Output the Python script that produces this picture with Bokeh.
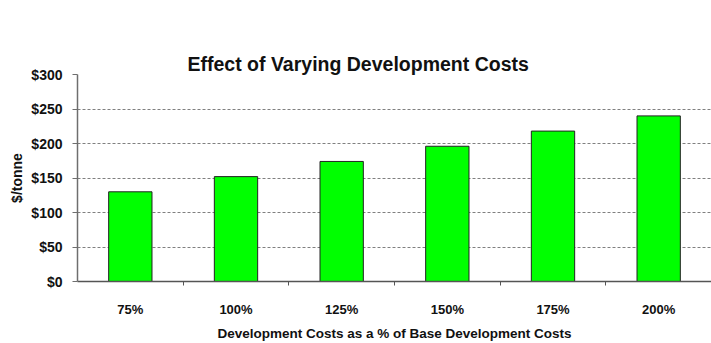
from bokeh.plotting import figure
from bokeh.models import (FixedTicker, NumeralTickFormatter, Range1d,
                          ColumnDataSource, LinearAxis)
from bokeh.embed import file_html
from bokeh.resources import INLINE

# Data
categories = ["75%", "100%", "125%", "150%", "175%", "200%"]
cost_per_tonne = [130, 152, 174, 196, 218, 240]
y_ticks = [0, 50, 100, 150, 200, 250, 300]
title_text = "Effect of Varying Development Costs"

n = len(categories)
centers = [i + 0.5 for i in range(n)]
boundaries = [float(i) for i in range(1, n)]

FONT = "Liberation Sans"
TEXT = "#111111"

source = ColumnDataSource(dict(x=centers, top=cost_per_tonne, cat=categories))

p = figure(width=711, height=343, output_backend="svg", toolbar_location=None,
           x_range=Range1d(0, n), y_range=Range1d(0, 300),
           min_border_left=77, min_border_right=0, min_border_top=74,
           min_border_bottom=60, background_fill_color="white",
           border_fill_color="white", outline_line_color=None,
           title=title_text)

p.title.align = "left"
p.title.offset = 110
p.title.vertical_align = "bottom"
p.title.standoff = 0
p.title.text_font = FONT
p.title.text_font_size = "19.5px"
p.title.text_font_style = "bold"
p.title.text_color = TEXT

# The bottom axis, taken before anything else is added above the plot
xax = p.below[0]

# Blank strip above the plot area that keeps the heading clear of the grid
spacer = LinearAxis(ticker=FixedTicker(ticks=[]), axis_line_color=None,
                    major_tick_line_color=None, minor_tick_line_color=None,
                    major_tick_in=0, major_tick_out=40, minor_tick_out=0,
                    major_label_standoff=0)
p.add_layout(spacer, "above")

p.vbar(x="x", top="top", bottom=0, width=0.41, source=source,
       fill_color="#00ff00", line_color="#222222", line_width=1)

# Y axis
p.yaxis.ticker = FixedTicker(ticks=y_ticks)
p.yaxis.formatter = NumeralTickFormatter(format="$0")
p.yaxis.axis_label = "$/tonne"
p.yaxis.axis_label_text_font = FONT
p.yaxis.axis_label_text_font_size = "14px"
p.yaxis.axis_label_text_font_style = "bold"
p.yaxis.axis_label_text_color = TEXT
p.yaxis.axis_label_standoff = 3
p.yaxis.major_label_text_font = FONT
p.yaxis.major_label_text_font_size = "14px"
p.yaxis.major_label_text_font_style = "bold"
p.yaxis.major_label_text_color = TEXT
p.yaxis.major_label_standoff = 10
p.yaxis.major_tick_in = 0
p.yaxis.major_tick_out = 5
p.yaxis.minor_tick_line_color = None
p.yaxis.axis_line_color = "#6e6e6e"
p.yaxis.axis_line_width = 1.5
p.yaxis.major_tick_line_color = "#6e6e6e"

# X axis: labels at category centres, short marks between categories
xax.ticker = FixedTicker(ticks=centers, minor_ticks=boundaries)
xax.major_label_overrides = {c: lab for c, lab in zip(centers, categories)}
xax.major_tick_line_color = None
xax.major_tick_in = 0
xax.major_tick_out = 0
xax.minor_tick_in = 0
xax.minor_tick_out = 4
xax.minor_tick_line_color = "#555555"
xax.axis_line_color = "#555555"
xax.axis_line_width = 1.5
xax.major_label_standoff = 16
xax.major_label_text_font = FONT
xax.major_label_text_font_size = "13px"
xax.major_label_text_font_style = "bold"
xax.major_label_text_color = TEXT
xax.axis_label = "Development Costs as a % of Base Development Costs"
xax.axis_label_text_font = FONT
xax.axis_label_text_font_size = "13.5px"
xax.axis_label_text_font_style = "bold"
xax.axis_label_text_color = TEXT
xax.axis_label_standoff = 6

p.xgrid.grid_line_color = None
p.ygrid.ticker = FixedTicker(ticks=y_ticks)
p.ygrid.grid_line_color = "#808080"
p.ygrid.grid_line_dash = "3 2"
p.ygrid.grid_line_width = 1

open("out.html", "w").write(file_html(p, INLINE))
